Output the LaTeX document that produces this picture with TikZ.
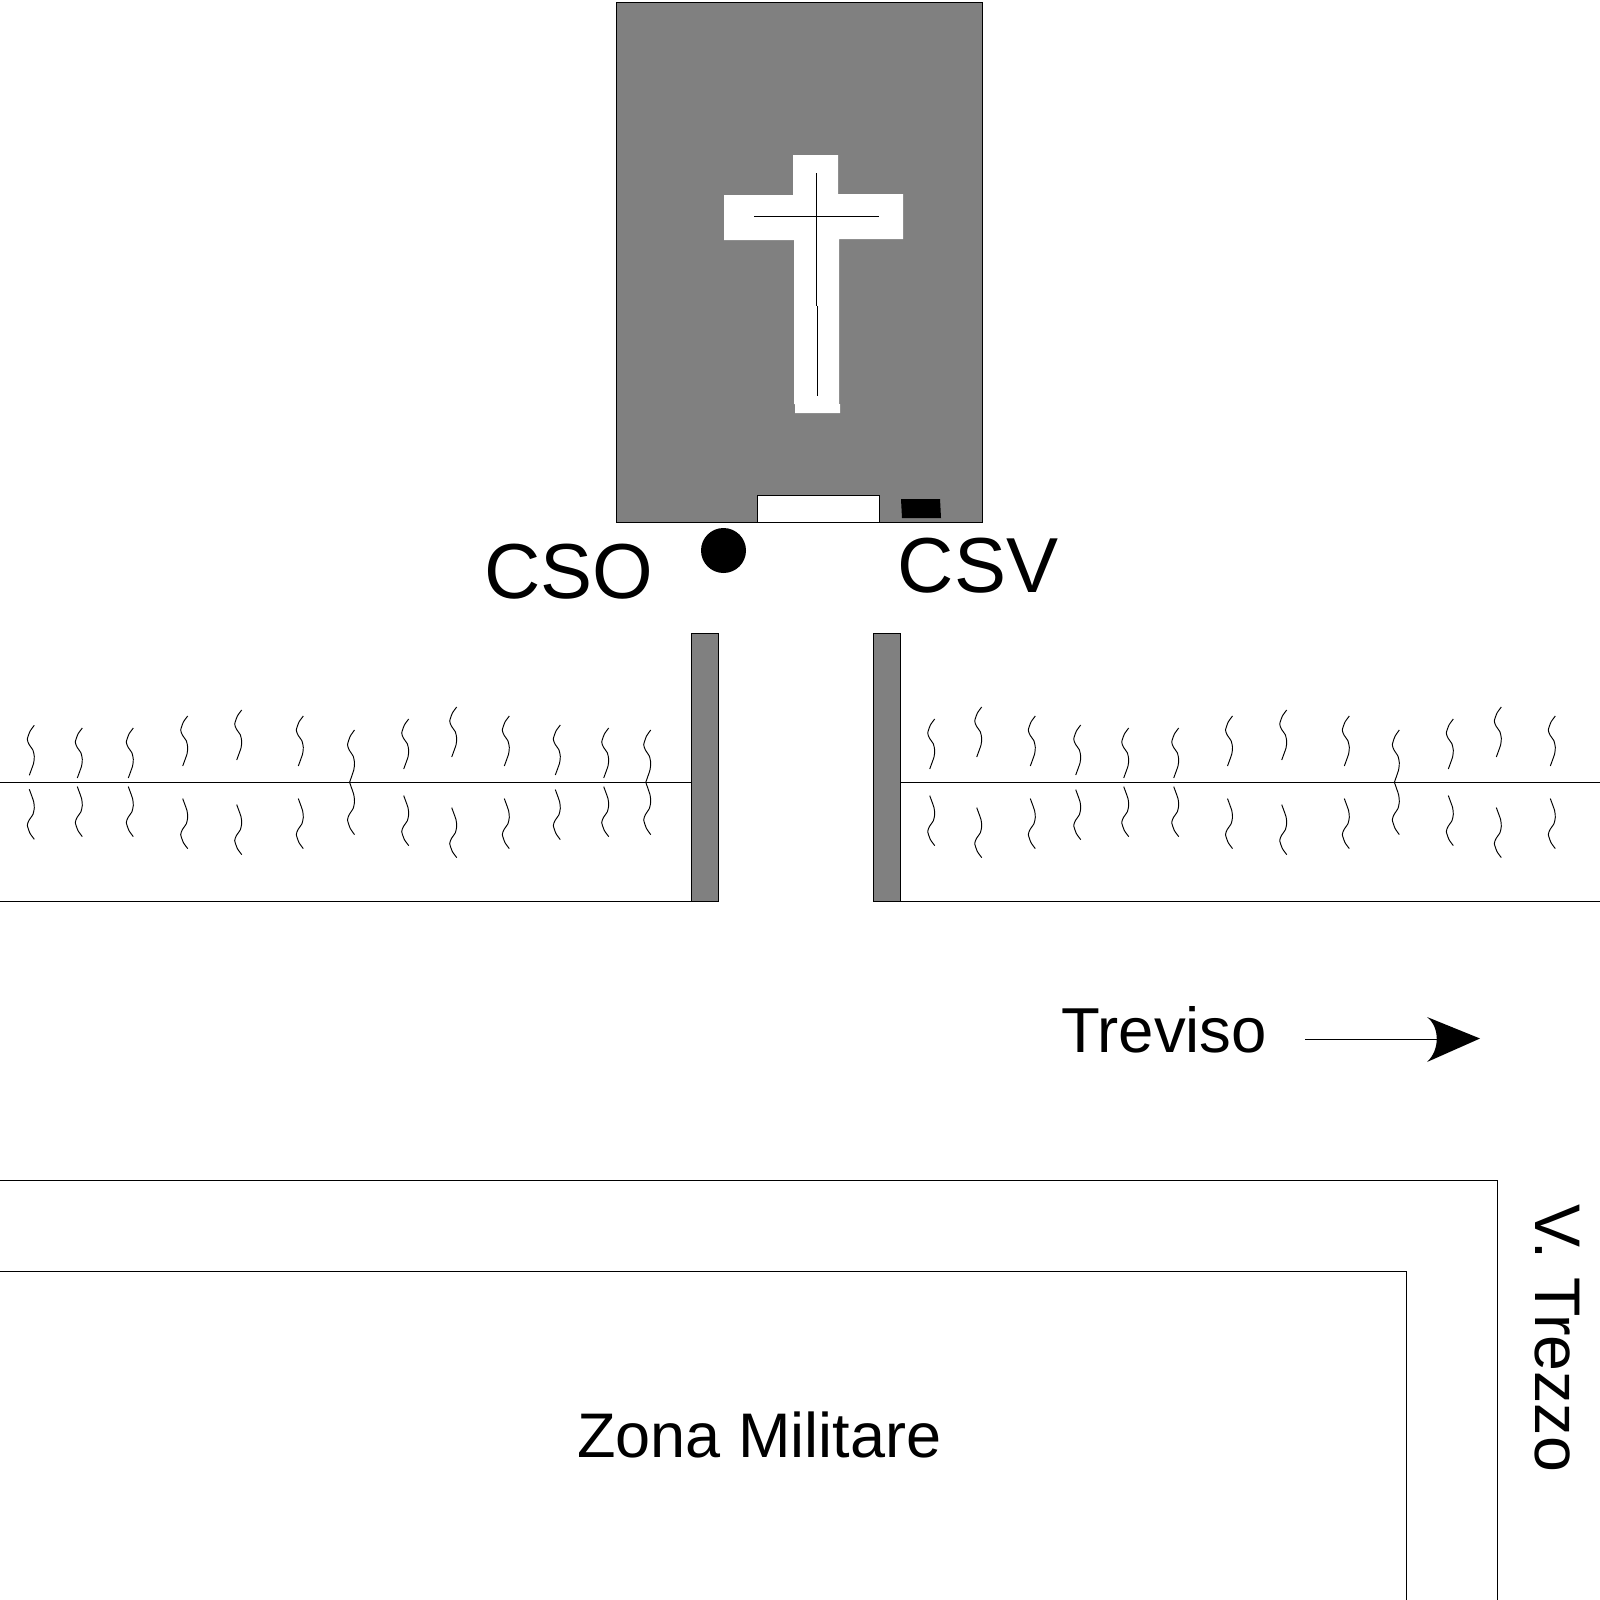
\documentclass[tikz,border=0pt]{standalone}
\usepackage{fontspec}
\setmainfont{Liberation Sans}
\tikzset{
  x=1pt,y=-1pt,
  thin line/.style={draw=black,line width=1pt},
  block/.style={thin line,fill=gray50},
  wig/.style={draw=black,line width=0.95pt,line join=round},
  lab/.style={inner sep=0pt,anchor=base west,text=black},
  big/.style={lab,font=\fontsize{78}{80}\selectfont},
  mid/.style={lab,font=\fontsize{63.5}{65}\selectfont}
}
\definecolor{gray50}{gray}{0.5}
\newcommand{\wiggle}{plot[smooth,tension=0.35] coordinates {(0,0) (-4.3,6) (-7,14) (-5.3,19) (-1.3,25) (0,31.3) (-0.7,38) (-5,50)}}
\begin{document}
\begin{tikzpicture}
\useasboundingbox (0,0) rectangle (1600,1600);
\fill[white] (0,0) rectangle (1600,1600);
% church
\draw[block] (616.3,2.8) rectangle (982.5,522.5);
\fill[white] (793,155) -- (838,155) -- (838,194) -- (903,194) -- (903,239) -- (839,239) -- (839,404) -- (840,404) -- (840,413) -- (795,413) -- (795,404) -- (794,404) -- (794,240) -- (724,240) -- (724,195) -- (793,195) -- cycle;
\draw[thin line] (816.3,173.3) -- (816.3,305.7);
\draw[thin line] (817.3,305.7) -- (817.3,395.7);
\draw[thin line] (754,216.3) -- (879,216.3);
\draw[thin line,fill=white] (757.3,522.5) rectangle (879.3,495.3);
\fill[black] (901,499) -- (940,499) -- (941,518) -- (902,518) -- cycle;
\fill[black] (723.5,550.5) circle (22.5);
% walls
\draw[block] (691.5,633) rectangle (718.5,901.6);
\draw[block] (873.4,633) rectangle (900.8,901.6);
\draw[thin line] (0,901.6) -- (691.5,901.6);
\draw[thin line] (900.8,901.6) -- (1600,901.6);
\draw[thin line] (0,782.3) -- (691.5,782.3);
\draw[thin line] (900.8,782.3) -- (1600,782.3);
% hedges
\foreach \x/\d/\s in {
 34.3/57/1, 82.3/54.3/1, 133.3/54.3/1, 187.7/66.3/1, 241.7/72.3/1, 303.3/66.3/1, 354.5/52.3/1.05,
 408.7/63.3/1, 456.7/75.3/1, 509.3/66.3/1, 560.3/57.3/1, 608.7/54.3/1, 650.7/52.3/1.05,
 934.7/63.3/1, 981.7/75.3/1, 1035.3/66.3/1, 1080.7/57.3/1, 1128.7/54.3/1, 1178.7/54.3/1, 1232.5/66.3/1,
 1286.7/72.3/1, 1349.3/66.3/1, 1399.3/52.3/1.05, 1453.3/63.3/1, 1501.3/75.3/1, 1555.3/66.3/1}{
  \draw[wig,shift={(\x,782.3-\d)},yscale=\s] \wiggle;
  \draw[wig,shift={(\x,782.3+\d)},yscale=-\s] \wiggle;
}
% arrow
\coordinate (arrowstart) at (1305,1039.3);
\coordinate (arrowneck) at (1437,1039.3);
\draw[thin line] (arrowstart) -- (arrowneck);
\fill[black] (1480,1038.5) -- (1427,1017) .. controls (1440,1027) and (1440,1050) .. (1427,1062) -- cycle;
% zone
\draw[thin line] (0,1180.6) -- (1497.6,1180.6) -- (1497.6,1600);
\draw[thin line] (0,1271.4) -- (1406.6,1271.4) -- (1406.6,1600);
% labels
\node[big] (cso) at (484,598) {CSO};
\node[big] (csv) at (897.5,592) {CSV};
\node[mid] (treviso) at (1061,1052) {Treviso};
\node[lab,font=\fontsize{63}{65}\selectfont] (zona) at (577,1457) {Zona Militare};
\node[lab,font=\fontsize{64.5}{66}\selectfont,rotate=-90] (trezzo) at (1535,1204) {V. Trezzo};
\end{tikzpicture}
\end{document}
